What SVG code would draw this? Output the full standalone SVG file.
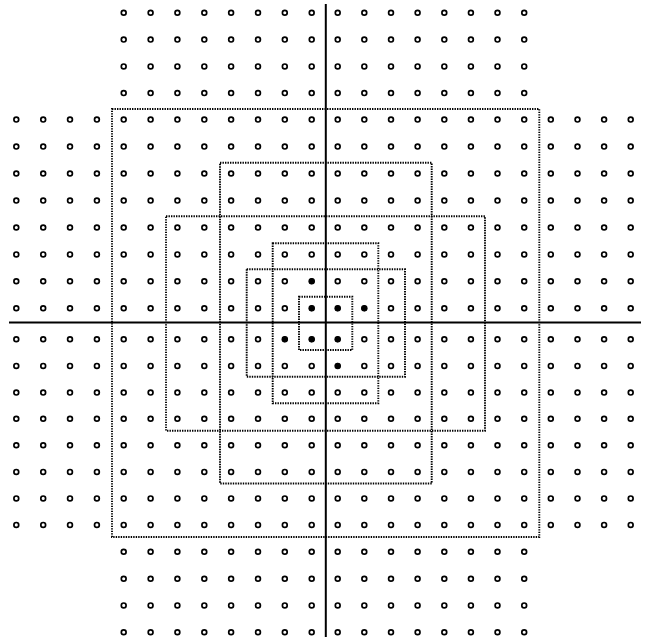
<svg xmlns="http://www.w3.org/2000/svg" xmlns:xlink="http://www.w3.org/1999/xlink" width="647" height="642" viewBox="0 0 647 642">
<style>
.o{fill:#fff;stroke:#000;stroke-width:1.7}
.f{fill:#000;stroke:#000;stroke-width:1}
.box{fill:none;stroke:#000;stroke-width:1.9;stroke-dasharray:1.4 1.1}
.axis{stroke:#000;stroke-width:2;fill:none}
</style>
<defs>
<g id="rowFull">
<circle class="o" cx="16.3" cy="0" r="2.4"/><circle class="o" cx="43.2" cy="0" r="2.4"/><circle class="o" cx="70.0" cy="0" r="2.4"/><circle class="o" cx="96.9" cy="0" r="2.4"/>
<use xlink:href="#rowMid"/>
<circle class="o" cx="550.8" cy="0" r="2.4"/><circle class="o" cx="577.5" cy="0" r="2.4"/><circle class="o" cx="604.1" cy="0" r="2.4"/><circle class="o" cx="630.7" cy="0" r="2.4"/>
</g>
<g id="rowMid">
<circle class="o" cx="123.7" cy="0" r="2.4"/><circle class="o" cx="150.6" cy="0" r="2.4"/><circle class="o" cx="177.4" cy="0" r="2.4"/><circle class="o" cx="204.3" cy="0" r="2.4"/>
<circle class="o" cx="231.1" cy="0" r="2.4"/><circle class="o" cx="258.0" cy="0" r="2.4"/><circle class="o" cx="284.8" cy="0" r="2.4"/><circle class="o" cx="311.7" cy="0" r="2.4"/>
<circle class="o" cx="337.7" cy="0" r="2.4"/><circle class="o" cx="364.3" cy="0" r="2.4"/><circle class="o" cx="391.0" cy="0" r="2.4"/><circle class="o" cx="417.6" cy="0" r="2.4"/>
<circle class="o" cx="444.3" cy="0" r="2.4"/><circle class="o" cx="470.9" cy="0" r="2.4"/><circle class="o" cx="497.5" cy="0" r="2.4"/><circle class="o" cx="524.2" cy="0" r="2.4"/>
</g>
</defs>
<rect width="647" height="642" fill="#fff"/>
<g id="lattice">
<use xlink:href="#rowMid" y="12.7"/>
<use xlink:href="#rowMid" y="39.6"/>
<use xlink:href="#rowMid" y="66.4"/>
<use xlink:href="#rowMid" y="93.1"/>
<use xlink:href="#rowFull" y="119.6"/>
<use xlink:href="#rowFull" y="146.6"/>
<use xlink:href="#rowFull" y="173.5"/>
<use xlink:href="#rowFull" y="200.6"/>
<use xlink:href="#rowFull" y="227.5"/>
<use xlink:href="#rowFull" y="254.4"/>
<use xlink:href="#rowFull" y="281.2"/>
<use xlink:href="#rowFull" y="308.3"/>
<use xlink:href="#rowFull" y="339.3"/>
<use xlink:href="#rowFull" y="365.9"/>
<use xlink:href="#rowFull" y="392.6"/>
<use xlink:href="#rowFull" y="418.8"/>
<use xlink:href="#rowFull" y="445.3"/>
<use xlink:href="#rowFull" y="471.9"/>
<use xlink:href="#rowFull" y="498.4"/>
<use xlink:href="#rowFull" y="524.9"/>
<use xlink:href="#rowMid" y="551.8"/>
<use xlink:href="#rowMid" y="578.7"/>
<use xlink:href="#rowMid" y="605.4"/>
<use xlink:href="#rowMid" y="632.3"/>
</g>
<g id="filled">
<circle class="f" cx="311.7" cy="281.2" r="2.5"/>
<circle class="f" cx="311.7" cy="308.3" r="2.5"/>
<circle class="f" cx="337.7" cy="308.3" r="2.5"/>
<circle class="f" cx="364.3" cy="308.3" r="2.5"/>
<circle class="f" cx="284.8" cy="339.3" r="2.5"/>
<circle class="f" cx="311.7" cy="339.3" r="2.5"/>
<circle class="f" cx="337.7" cy="339.3" r="2.5"/>
<circle class="f" cx="337.7" cy="365.9" r="2.5"/>
</g>
<g id="boxes">
<rect class="box" x="112" y="109" width="427.3" height="428"/>
<rect class="box" x="220" y="162.7" width="211.7" height="320.8"/>
<rect class="box" x="166" y="216.3" width="319" height="214.4"/>
<rect class="box" x="272.7" y="243.3" width="105.6" height="160"/>
<rect class="box" x="246.7" y="269.3" width="158.3" height="107.4"/>
<rect class="box" x="299" y="296.7" width="53.3" height="53.3"/>
</g>
<g id="axes">
<line class="axis" x1="325.8" y1="4" x2="325.8" y2="637"/>
<line class="axis" x1="9" y1="322.6" x2="641" y2="322.6"/>
</g>
</svg>
